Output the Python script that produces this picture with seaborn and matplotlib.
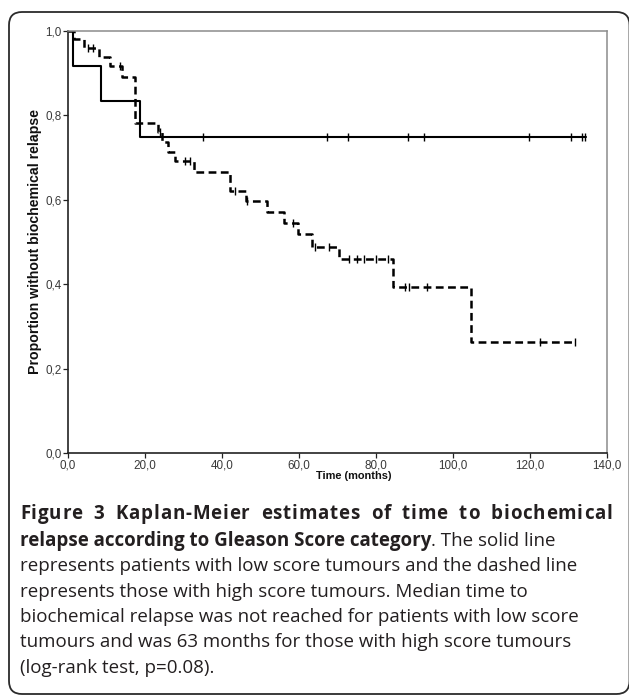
import matplotlib
matplotlib.use("Agg")
import matplotlib.pyplot as plt
import seaborn as sns
import numpy as np
import pandas as pd
from matplotlib.patches import FancyBboxPatch
from matplotlib.transforms import IdentityTransform

# ---------------- data ----------------
low_times = [0, 1.3, 8.6, 18.7, 134.5]
low_surv = [1.0, 0.917, 0.833, 0.75, 0.75]
low_cens_t = [35.0, 67.2, 72.8, 88.2, 92.4, 119.7, 130.6, 133.4, 134.3]

high_times = [0, 1.5, 4.2, 8.0, 10.9, 13.9, 17.4, 23.4, 24.3, 26.0, 27.8,
              32.8, 42.0, 46.2, 51.8, 56.0, 59.8, 63.3, 70.5, 84.5, 104.7, 131.7]
high_surv = [1.0, 0.981, 0.959, 0.938, 0.916, 0.892, 0.781, 0.761, 0.738, 0.714, 0.692,
             0.667, 0.621, 0.597, 0.572, 0.545, 0.520, 0.489, 0.459, 0.393, 0.262, 0.262]
high_cens_t = [5.3, 6.6, 13.5, 24.0, 30.4, 31.7, 43.4, 46.6, 58.5, 64.2, 67.8,
               73.0, 75.0, 77.0, 80.0, 83.0, 87.6, 88.7, 93.2, 122.5, 131.7]

x_ticks = [0, 20, 40, 60, 80, 100, 120, 140]
x_tick_labels = ["0,0", "20,0", "40,0", "60,0", "80,0", "100,0", "120,0", "140,0"]
y_ticks = [0.0, 0.2, 0.4, 0.6, 0.8, 1.0]
y_tick_labels = ["0,0", "0,2", "0,4", "0,6", "0,8", "1,0"]

x_label = "Time (months)"
y_label = "Proportion without biochemical relapse"

caption_bold_1 = "Figure 3 Kaplan-Meier estimates of time to biochemical"
caption_bold_2 = "relapse according to Gleason Score category"
caption_norm_2 = ". The solid line"
caption_lines = [
    "represents patients with low score tumours and the dashed line",
    "represents those with high score tumours. Median time to",
    "biochemical relapse was not reached for patients with low score",
    "tumours and was 63 months for those with high score tumours",
    "(log-rank test, p=0.08).",
]


def step_value(times, surv, t):
    idx = np.searchsorted(times, t, side="right") - 1
    return surv[idx]


low_df = pd.DataFrame({"time": low_times, "surv": low_surv})
high_df = pd.DataFrame({"time": high_times, "surv": high_surv})
low_c = pd.DataFrame({"time": low_cens_t,
                      "surv": [step_value(low_times, low_surv, t) for t in low_cens_t]})
high_c = pd.DataFrame({"time": high_cens_t,
                       "surv": [step_value(high_times, high_surv, t) for t in high_cens_t]})

# ---------------- figure ----------------
sns.set_theme(style="white")
plt.rcParams['font.family'] = ['Liberation Sans', 'DejaVu Sans']
plt.rcParams['lines.scale_dashes'] = False

W, H = 629, 700
fig = plt.figure(figsize=(W / 100, H / 100), dpi=100)
fig.patch.set_facecolor("white")

ax_l, ax_r, ax_t, ax_b = 68, 607, 31, 453
ax = fig.add_axes([ax_l / W, 1 - ax_b / H, (ax_r - ax_l) / W, (ax_b - ax_t) / H])

sns.lineplot(data=low_df, x="time", y="surv", ax=ax, drawstyle="steps-post",
             color="black", linewidth=1.5, estimator=None, sort=False)
sns.lineplot(data=high_df, x="time", y="surv", ax=ax, drawstyle="steps-post",
             color="black", linewidth=1.8, linestyle=(0, (5.6, 3.2)),
             estimator=None, sort=False)
sns.scatterplot(data=low_c, x="time", y="surv", ax=ax, marker="|", s=30,
                color="black", linewidth=1.0, zorder=5)
sns.scatterplot(data=high_c, x="time", y="surv", ax=ax, marker="|", s=30,
                color="black", linewidth=1.0, zorder=5)

ax.set_xlim(0, 140)
ax.set_ylim(0, 1.0)
ax.set_xticks(x_ticks)
ax.set_xticklabels(x_tick_labels)
ax.set_yticks(y_ticks)
ax.set_yticklabels(y_tick_labels)
ax.tick_params(axis="both", which="major", direction="out", length=3.5, width=0.9,
               color="#222222", labelsize=8.4, labelcolor="#3a3a3a", pad=1.2,
               bottom=True, left=True)
for side in ("left", "bottom"):
    ax.spines[side].set_color("#222222")
    ax.spines[side].set_linewidth(1.2)
for side in ("top", "right"):
    ax.spines[side].set_color("#8c8c8c")
    ax.spines[side].set_linewidth(1.1)
    ax.spines[side].set_visible(True)

ax.set_xlabel(x_label, fontsize=7.9, fontweight="bold", color="#111111")
ax.set_ylabel(y_label, fontsize=10.2, fontweight="bold", color="#111111")
ax.xaxis.set_label_coords((354 - ax_l) / (ax_r - ax_l), -(471 - ax_b) / (ax_b - ax_t))
ax.yaxis.set_label_coords(-(ax_l - 42) / (ax_r - ax_l), 0.5)

# ---------------- outer rounded frame ----------------
frame = FancyBboxPatch((9, H - 694), 620.5, 682,
                       boxstyle="round,pad=0,rounding_size=13",
                       transform=IdentityTransform(), facecolor="none",
                       edgecolor="#2b2b2b", linewidth=1.3, zorder=10)
fig.patches.append(frame)

# ---------------- caption ----------------
renderer = fig.canvas.get_renderer()
cap_font = ['Open Sans', 'DejaVu Sans']
txt_color = "#231f20"


def text_width(s, size, weight):
    t = fig.text(0, 0, s, fontsize=size, fontweight=weight, family=cap_font,
                 transform=IdentityTransform())
    w = t.get_window_extent(renderer).width
    t.remove()
    return w

# font size chosen so that the third caption line spans ~560 px
base = text_width(caption_lines[0], 10, "normal")
cap_size = 10 * 558 / base

left_x = 20
right_x = 612
base0 = 519
lead = 25.3


def put(x, ybase, s, weight):
    return fig.text(x, H - ybase, s, fontsize=cap_size, fontweight=weight,
                    family=cap_font, color=txt_color, ha="left", va="baseline",
                    transform=IdentityTransform())

# line 1: bold, justified (mostly at word gaps, slight letter spacing)
s1 = caption_bold_1
full_w = text_width(s1, cap_size, "bold")
n_gaps = len(s1) - 1
n_spaces = s1.count(" ")
extra = right_x - left_x - full_w
space_weight = 7
unit = extra / (n_gaps + (space_weight - 1) * n_spaces)
offset = 0.0
for i, ch in enumerate(s1):
    if ch != " ":
        prefix_w = text_width(s1[:i], cap_size, "bold") if i > 0 else 0.0
        put(left_x + prefix_w + offset, base0, ch, "bold")
    offset += unit * (space_weight if ch == " " else 1)

# line 2: bold + normal
y2 = base0 + lead * 1.07
put(left_x, y2, caption_bold_2, "bold")
wb = text_width(caption_bold_2, cap_size, "bold")
put(left_x + wb, y2, caption_norm_2, "normal")

for i, line in enumerate(caption_lines):
    put(left_x, base0 + lead * (2.07 + i), line, "normal")

fig.savefig("out.png", dpi=100, facecolor="white")
